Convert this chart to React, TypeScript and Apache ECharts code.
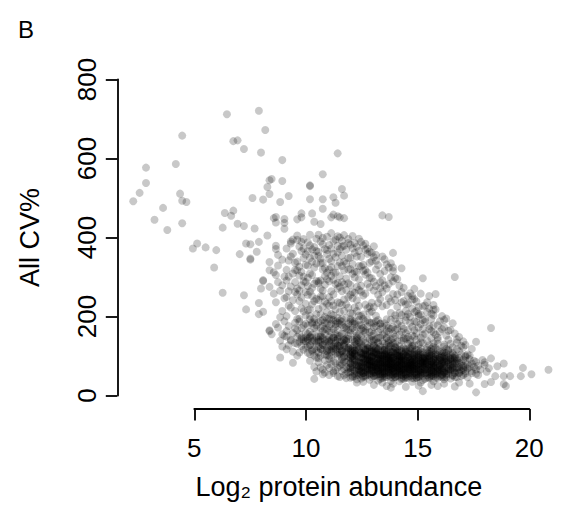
import React, { useEffect, useRef } from "react";
import * as echarts from "echarts";

const panelLabel = "B";
const xTitle = "Log₂ protein abundance";
const yTitle = "All CV%";
const xTickStep = 5;
const xTickRange = [5, 20];
const yTickStep = 200;
const yTickRange = [0, 800];

// low-abundance outliers
const sparseLeft: [number, number][] = [
  [2.3,492],[2.6,513],[2.9,538],[2.9,577],[3.3,445],[3.7,475],[3.9,419],[4.3,586],[4.6,658],[4.5,511],[4.6,493],[4.8,490],[4.6,436],
  [5.1,372],[5.3,385],[5.7,375],[6.2,368],[6.1,324],[6.5,260],[6.7,712],[7.0,644],[7.2,646],[7.5,624],[6.6,462],[7.0,468],[6.9,455],
  [7.2,435],[7.5,429],[6.5,425],[7.3,358],[7.6,385],[7.8,383],[7.5,254],[7.6,218]
];

// sparse points above the main cloud
const sparseUpper: [number, number][] = [
  [8.2,721],[8.5,672],[8.3,615],[7.9,500],[8.4,496],[8.6,528],[8.7,545],[8.7,510],[8.0,423],[8.1,364],[8.2,389],[7.8,344],[7.8,347],
  [8.2,234],[8.2,206],[8.4,212],[8.4,292],[8.4,290],[8.3,271],[8.7,165],[8.7,163],[8.7,338],[8.7,317],[8.7,275],[8.6,405],[9.0,379],
  [8.9,449],[9.0,438],[9.3,596],[9.3,543],[8.8,548],[9.6,505],[9.2,490],[9.4,447],[9.4,422],[9.7,390],[8.8,155],[9.3,155],[9.2,96],
  [9.8,83],[10.8,42],[10.2,461],[10.2,451],[10.6,530],[10.6,532],[10.6,497],[10.7,461],[10.8,440],[11.2,560],[11.2,497],[11.2,473],
  [11.1,434],[11.7,502],[11.8,488],[11.9,613],[12.1,523],[12.2,506],[12.0,451],[12.2,449],[11.6,451],[11.7,458],[11.9,454],[14.0,456],
  [14.3,452],[9.4,437],[9.0,452],[10.0,446]
];

// sparse points right of / below the main cloud
const sparseRight: [number, number][] = [
  [14.5,361],[14.5,324],[14.9,322],[15.9,297],[17.4,300],[15.5,270],[16.2,252],[16.5,257],[16.4,217],[16.9,191],[19.1,171],[18.4,136],
  [17.1,164],[17.5,142],[17.8,122],[21.8,65],[21.0,54],[20.6,70],[20.5,49],[20.0,49],[19.7,49],[19.3,49],[19.7,29],[19.7,81],[19.4,74],
  [19.1,94],[18.8,29],[18.4,8],[17.4,23],[19.1,34],[18.1,30],[15.9,11],[14.4,20],[19.8,24],
  [12.8,33],[13.6,27],[14.2,24],[15.1,22],[15.7,25],[16.3,27],[16.9,30],[17.6,33],[13.1,35],[16.6,24]
];

// upper "bubble" of high CV proteins
const bubblePoints: [number, number][] = [
  [8.9,312],[9.1,287],[9.3,344],[9.0,236],[9.2,265],[9.4,301],[8.9,258],[9.1,329],[9.3,214],[9.0,371],[9.2,198],[9.4,246],[9.1,356],[9.3,279],[9.0,305],
  [9.5,318],[9.7,352],[9.9,287],[9.6,264],[9.8,241],[9.5,372],[9.7,223],[9.9,336],[9.6,301],[9.8,395],[9.5,249],[9.7,276],[9.9,214],[9.6,342],[9.8,309],[9.5,201],[9.7,385],[9.9,262],[9.6,228],[9.8,359],[9.5,291],[9.9,318],
  [10.0,394],[10.2,366],[10.4,331],[10.1,304],[10.3,289],[10.0,256],[10.2,221],[10.4,203],[10.1,377],[10.3,348],[10.0,317],[10.2,279],[10.4,262],[10.1,239],[10.3,213],[10.0,405],[10.2,389],[10.4,357],[10.1,326],[10.3,301],[10.0,271],[10.2,248],[10.4,287],[10.1,194],[10.3,372],[10.0,339],[10.2,313],[10.4,232],[10.1,266],[10.3,396],
  [10.5,388],[10.7,370],[10.9,334],[10.6,309],[10.8,283],[10.5,255],[10.7,231],[10.9,206],[10.6,348],[10.8,324],[10.5,298],[10.7,272],[10.9,245],[10.6,218],[10.8,194],[10.5,365],[10.7,339],[10.9,397],[10.6,380],[10.8,354],[10.5,216],[10.7,185],[10.9,290],[10.6,263],[10.8,239],[10.5,329],[10.7,305],[10.9,366],[10.6,201],[10.8,376],[10.5,277],[10.7,252],[10.6,407],
  [11.0,407],[11.2,383],[11.4,358],[11.1,335],[11.3,302],[11.0,284],[11.2,251],[11.4,232],[11.1,206],[11.3,371],[11.0,353],[11.2,319],[11.4,294],[11.1,270],[11.3,238],[11.0,219],[11.2,399],[11.4,368],[11.1,347],[11.3,322],[11.0,289],[11.2,266],[11.4,211],[11.1,390],[11.3,281],[11.0,242],[11.2,336],[11.4,311],[11.1,251],[11.3,199],[11.0,364],[11.2,225],[11.4,402],[11.1,291],
  [11.5,381],[11.7,359],[11.9,328],[11.6,303],[11.8,282],[11.5,249],[11.7,228],[11.9,196],[11.6,372],[11.8,350],[11.5,319],[11.7,293],[11.9,271],[11.6,239],[11.8,218],[11.5,194],[11.7,391],[11.9,362],[11.6,340],[11.8,311],[11.5,289],[11.7,256],[11.9,236],[11.6,206],[11.8,395],[11.5,346],[11.7,312],[11.9,285],[11.6,264],[11.8,181],[11.5,228],[11.7,203],[11.9,379],[11.6,325],[11.6,411],[11.9,403],
  [12.0,400],[12.2,379],[12.4,348],[12.1,328],[12.3,296],[12.0,275],[12.2,243],[12.4,222],[12.1,392],[12.3,369],[12.0,337],[12.2,317],[12.4,284],[12.1,264],[12.3,231],[12.0,211],[12.2,406],[12.4,386],[12.1,354],[12.3,334],[12.0,302],[12.2,281],[12.4,249],[12.1,229],[12.3,196],[12.0,371],[12.2,339],[12.4,319],[12.1,287],[12.3,267],[12.0,234],[12.2,214],[12.4,396],[12.1,377],
  [12.5,382],[12.7,361],[12.9,328],[12.6,308],[12.8,275],[12.5,255],[12.7,223],[12.9,202],[12.6,373],[12.8,352],[12.5,320],[12.7,299],[12.9,267],[12.6,246],[12.8,214],[12.5,193],[12.7,386],[12.9,366],[12.6,333],[12.8,313],[12.5,280],[12.7,260],[12.9,227],[12.6,207],[12.8,377],[12.5,349],[12.7,314],[12.9,294],[12.6,262],[12.8,241],[12.5,209],[12.7,188],[12.6,404],[12.9,397],
  [13.0,389],[13.2,369],[13.4,336],[13.1,316],[13.3,283],[13.0,263],[13.2,230],[13.4,210],[13.1,380],[13.3,359],[13.0,327],[13.2,306],[13.4,274],[13.1,253],[13.3,221],[13.0,201],[13.2,384],[13.4,364],[13.1,331],[13.3,311],[13.0,278],[13.2,258],[13.4,225],[13.1,205],[13.3,372],[13.0,351],[13.2,318],[13.4,298],
  [13.5,361],[13.7,341],[13.9,308],[13.6,288],[13.8,255],[13.5,235],[13.7,202],[13.9,182],[13.6,350],[13.8,330],[13.5,297],[13.7,277],[13.9,244],[13.6,224],[13.8,191],[13.5,340],[13.7,319],[13.9,287],[13.6,266],[13.8,234],[13.5,213],[13.7,356],[13.9,272],[13.6,183],[13.6,378],
  [14.0,352],[14.2,332],[14.4,299],[14.1,279],[14.3,246],[14.0,226],[14.2,193],[14.4,335],[14.1,315],[14.3,282],[14.0,262],[14.2,229],[14.4,209],[14.1,345],[14.3,324],[14.0,291],[14.2,271],[14.4,238],
  [14.5,315],[14.7,295],[14.9,262],[14.6,242],[14.8,209],[14.5,289],[14.7,256],[14.9,236],[14.6,203],[14.8,278],[14.5,257],[14.7,225],[14.9,204],[14.6,298],
  [15.0,273],[15.2,252],[15.4,220],[15.1,199],[15.3,259],[15.0,239],[15.2,206],[15.4,252],[15.1,231],[15.3,199],
  [15.5,244],[15.7,224],[15.9,191],[15.6,238],[15.8,205],[15.5,211],[15.7,202],
  [16.1,211],[16.3,194],[16.0,228],[16.4,203],[16.2,220]
];

// middle band, CV roughly 95-195 %
const midPoints: [number, number][] = [
  [9.1,172],[9.4,188],[9.2,139],[9.3,124],[9.0,181],[9.4,151],
  [9.6,176],[9.5,149],[9.9,133],[9.7,139],[9.8,111],[9.5,163],[9.9,184],[9.6,127],[9.8,158],[9.7,141],[9.5,117],[9.9,170],
  [10.1,187],[10.3,142],[10.0,166],[10.4,121],[10.2,143],[10.0,131],[10.3,178],[10.1,109],[10.4,159],[10.2,147],[10.0,194],[10.3,116],[10.1,155],[10.4,182],[10.2,126],[10.0,101],[10.3,138],[10.1,136],[10.4,147],[10.2,171],[10.0,149],[10.4,138],
  [10.6,193],[10.9,168],[10.5,143],[10.8,118],[10.7,146],[10.5,177],[10.9,132],[10.6,105],[10.8,186],[10.7,154],[10.5,124],[10.9,137],[10.6,161],[10.8,139],[10.7,112],[10.5,139],[10.9,149],[10.6,128],[10.8,171],[10.7,182],[10.5,156],[10.9,114],[10.6,149],[10.8,101],[10.7,137],[10.5,108],[10.9,178],[10.6,147],
  [11.3,138],[11.2,163],[11.1,137],[11.4,112],[11.0,186],[11.1,171],[11.2,128],[11.3,104],[11.4,194],[11.0,149],[11.1,118],[11.2,147],[11.3,157],[11.4,141],[11.0,124],[11.1,189],[11.2,176],[11.3,131],[11.4,167],[11.0,109],[11.1,152],[11.2,143],[11.3,184],[11.4,121],[11.0,141],[11.1,101],[11.2,116],[11.3,168],[11.4,182],[11.0,136],[11.1,149],[11.2,191],
  [11.6,142],[11.8,174],[11.5,148],[11.9,127],[11.7,191],[11.5,163],[11.8,106],[11.6,138],[11.9,184],[11.7,119],[11.5,136],[11.8,155],[11.6,111],[11.9,143],[11.7,168],[11.5,129],[11.8,139],[11.6,181],[11.9,102],[11.7,147],[11.5,115],[11.8,133],[11.6,159],[11.9,147],[11.7,125],[11.5,176],[11.8,188],[11.6,124],[11.9,166],[11.7,146],[11.5,139],[11.8,118],[11.6,193],[11.9,152],
  [12.0,190],[12.1,179],[12.3,139],[12.2,128],[12.4,182],[12.3,170],[12.1,113],[12.0,126],[12.2,172],[12.4,121],[12.3,138],[12.1,157],[12.0,109],[12.2,132],[12.4,167],[12.3,119],[12.1,187],[12.0,182],[12.2,99],[12.4,151],[12.3,107],[12.1,137],[12.0,150],[12.2,140],[12.4,116],[12.3,175],[12.1,194],[12.0,125],[12.2,156],[12.4,143],[12.3,144],[12.1,110],[12.0,136],[12.2,142],
  [12.5,188],[12.6,171],[12.8,147],[12.7,113],[12.9,178],[12.8,152],[12.6,109],[12.5,126],[12.7,181],[12.9,118],[12.8,144],[12.6,141],[12.5,103],[12.7,142],[12.9,155],[12.8,130],[12.6,183],[12.5,165],[12.7,106],[12.9,135],[12.8,116],[12.6,121],[12.5,158],[12.7,136],[12.9,124],[12.8,173],[12.6,189],[12.5,112],[12.7,163],[12.9,191],[12.8,139],[12.6,100],
  [13.4,184],[13.0,168],[13.2,133],[13.3,121],[13.1,171],[13.2,160],[13.0,108],[13.4,123],[13.3,175],[13.1,105],[13.2,187],[13.0,150],[13.4,111],[13.3,127],[13.1,163],[13.2,115],[13.0,178],[13.4,160],[13.3,104],[13.1,142],[13.2,101],[13.0,130],[13.4,143],[13.3,191],[13.1,120],[13.2,166],[13.0,137],[13.4,117],[13.3,146],[13.1,194],
  [13.6,173],[13.8,135],[13.5,121],[13.9,147],[13.7,109],[13.5,184],[13.8,132],[13.6,156],[13.9,104],[13.7,188],[13.5,139],[13.8,115],[13.6,141],[13.9,168],[13.7,143],[13.5,98],[13.8,161],[13.6,127],[13.9,182],[13.7,118],[13.5,163],[13.8,104],[13.6,137],[13.9,124],[13.7,176],[13.5,151],[13.8,146],[13.6,107],
  [14.2,177],[14.3,161],[14.4,126],[14.1,116],[14.0,174],[14.4,142],[14.3,106],[14.2,128],[14.1,156],[14.0,101],[14.4,192],[14.3,133],[14.2,98],[14.1,131],[14.0,154],[14.4,111],[14.3,171],[14.2,164],[14.1,102],[14.0,137],[14.4,100],[14.3,124],[14.2,147],[14.1,183],[14.0,115],[14.4,169],[14.3,139],[14.2,145],
  [14.6,166],[14.8,188],[14.5,117],[14.9,139],[14.7,101],[14.5,174],[14.8,125],[14.6,149],[14.9,99],[14.7,181],[14.5,133],[14.8,108],[14.6,194],[14.9,161],[14.7,137],[14.5,96],[14.8,154],[14.6,121],[14.9,176],[14.7,112],[14.5,157],[14.8,99],[14.6,131],[14.9,118],[14.7,169],[14.5,145],
  [15.0,169],[15.4,152],[15.3,120],[15.1,112],[15.2,166],[15.3,135],[15.4,103],[15.0,121],[15.1,158],[15.2,97],[15.3,184],[15.4,126],[15.0,104],[15.1,115],[15.2,148],[15.3,106],[15.4,174],[15.0,145],[15.1,190],[15.2,131],[15.3,141],[15.4,118],[15.0,140],[15.1,144],
  [15.6,158],[15.8,181],[15.5,111],[15.9,133],[15.7,97],[15.5,166],[15.8,119],[15.6,141],[15.9,95],[15.7,172],[15.5,127],[15.8,104],[15.6,186],[15.9,154],[15.7,129],[15.5,99],[15.8,146],[15.6,116],[15.9,168],[15.7,108],[15.5,149],[15.8,135],
  [16.4,160],[16.3,145],[16.2,113],[16.1,108],[16.0,157],[16.2,127],[16.3,101],[16.4,115],[16.1,139],[16.0,94],[16.2,176],[16.3,118],[16.4,132],[16.1,121],[16.0,186],[16.2,100],[16.3,163],[16.4,124],
  [16.6,147],[16.8,168],[16.5,104],[16.9,124],[16.7,96],[16.5,154],[16.8,112],[16.6,131],[16.9,99],[16.7,161],[16.5,121],[16.8,101],[16.6,178],
  [17.1,141],[17.3,122],[17.0,108],[17.4,97],[17.2,131],[17.0,152],[17.3,104],[17.1,116],
  [17.6,112],[17.9,101],[17.7,126],[17.5,134]
];

// right shoulder of the cloud (abundance 15-18, CV 100-260 %)
const rightShoulder: [number, number][] = [
  [15.2,232],[15.6,214],[15.9,226],[16.3,207],[16.7,188],[16.1,236],[15.4,243],[16.5,218],[16.9,172],[17.2,166],[17.6,148],[17.9,128],
  [17.3,183],[16.8,201],[15.8,258],[16.0,193],[16.4,178],[17.0,195],[15.5,188],[16.2,168],[16.6,141],[17.4,157],[17.8,137],[18.2,118],
  [18.0,104],[17.5,117],[16.9,129],[15.7,206],[15.1,214],[16.4,229]
];

// dense core, CV below ~130 %
const corePoints: [number, number][] = [
  [10.6,88],[10.8,72],[10.9,96],[10.7,115],[10.9,61],[10.6,127],
  [11.0,84],[11.2,66],[11.4,102],[11.1,119],[11.3,58],[11.0,95],[11.4,77],[11.2,128],[11.3,89],[11.1,71],[11.4,112],[11.2,54],
  [11.5,93],[11.7,61],[11.9,108],[11.6,79],[11.8,124],[11.5,52],[11.7,87],[11.9,71],[11.6,117],[11.8,64],[11.5,101],[11.9,49],[11.7,113],[11.6,96],[11.8,82],[11.5,70],[11.9,126],[11.7,57],
  [12.0,76],[12.2,98],[12.4,59],[12.1,113],[12.3,84],[12.0,47],[12.4,121],[12.2,67],[12.1,91],[12.3,55],[12.4,88],[12.0,104],[12.2,125],[12.3,72],[12.1,62],[12.4,99],[12.0,83],[12.2,51],[12.3,110],[12.1,79],[12.4,68],[12.0,118],[12.2,86],[12.3,44],[12.1,96],
  [12.5,81],[12.7,63],[12.9,97],[12.6,114],[12.8,52],[12.5,70],[12.7,106],[12.9,75],[12.6,88],[12.8,123],[12.5,45],[12.7,92],[12.9,58],[12.6,67],[12.8,101],[12.5,117],[12.7,78],[12.9,84],[12.6,49],[12.8,73],[12.5,94],[12.7,55],[12.9,111],[12.6,99],[12.8,86],[12.5,61],[12.7,127],[12.9,66],[12.6,78],[12.8,41],[12.5,104],[12.7,89],
  [13.0,74],[13.2,91],[13.4,56],[13.1,108],[13.3,81],[13.0,43],[13.4,97],[13.2,66],[13.1,85],[13.3,119],[13.0,62],[13.4,76],[13.2,103],[13.3,52],[13.1,71],[13.4,88],[13.0,95],[13.2,48],[13.3,68],[13.1,124],[13.4,64],[13.0,82],[13.2,78],[13.3,93],[13.1,57],[13.4,112],[13.0,105],[13.2,59],[13.3,74],[13.1,92],[13.4,40],[13.0,69],[13.2,116],[13.3,86],[13.1,63],[13.4,80],[13.0,54],[13.2,84],[13.3,101],[13.1,47],
  [13.5,77],[13.7,94],[13.9,61],[13.6,109],[13.8,83],[13.5,46],[13.7,68],[13.9,99],[13.6,72],[13.8,55],[13.5,88],[13.7,121],[13.9,79],[13.6,58],[13.8,104],[13.5,65],[13.7,50],[13.9,86],[13.6,93],[13.8,70],[13.5,112],[13.7,82],[13.9,42],[13.6,64],[13.8,91],[13.5,56],[13.7,75],[13.9,115],[13.6,85],[13.8,62],[13.5,97],[13.7,58],[13.9,72],[13.6,49],[13.8,118],[13.5,71],[13.7,103],[13.9,91],[13.6,78],[13.8,38],[13.5,84],[13.7,66],[13.9,54],[13.6,126],[13.8,76],
  [14.0,72],[14.2,89],[14.4,57],[14.1,104],[14.3,80],[14.0,44],[14.4,95],[14.2,65],[14.1,83],[14.3,117],[14.0,60],[14.4,74],[14.2,100],[14.3,51],[14.1,69],[14.4,87],[14.0,93],[14.2,47],[14.3,67],[14.1,121],[14.4,63],[14.0,81],[14.2,77],[14.3,92],[14.1,55],[14.4,109],[14.0,102],[14.2,58],[14.3,73],[14.1,90],[14.4,37],[14.0,68],[14.2,113],[14.3,84],[14.1,61],[14.4,79],[14.0,52],[14.2,82],[14.3,98],[14.1,46],[14.4,70],[14.0,86],[14.2,71],[14.3,59],[14.1,76],[14.4,127],[14.0,33],[14.2,96],
  [14.5,75],[14.7,92],[14.9,59],[14.6,107],[14.8,82],[14.5,45],[14.7,67],[14.9,97],[14.6,71],[14.8,53],[14.5,87],[14.7,118],[14.9,78],[14.6,56],[14.8,102],[14.5,63],[14.7,48],[14.9,84],[14.6,90],[14.8,68],[14.5,110],[14.7,80],[14.9,41],[14.6,62],[14.8,89],[14.5,54],[14.7,73],[14.9,112],[14.6,83],[14.8,60],[14.5,95],[14.7,57],[14.9,70],[14.6,47],[14.8,115],[14.5,69],[14.7,100],[14.9,88],[14.6,76],[14.8,36],[14.5,81],[14.7,64],[14.9,52],[14.6,123],[14.8,74],[14.5,30],[14.7,86],[14.9,66],
  [15.0,70],[15.2,87],[15.4,55],[15.1,101],[15.3,78],[15.0,42],[15.4,92],[15.2,63],[15.1,81],[15.3,114],[15.0,58],[15.4,72],[15.2,97],[15.3,49],[15.1,67],[15.4,85],[15.0,90],[15.2,45],[15.3,65],[15.1,118],[15.4,61],[15.0,79],[15.2,75],[15.3,89],[15.1,53],[15.4,106],[15.0,99],[15.2,56],[15.3,71],[15.1,88],[15.4,35],[15.0,66],[15.2,110],[15.3,82],[15.1,59],[15.4,77],[15.0,50],[15.2,80],[15.3,95],[15.1,44],[15.4,68],[15.0,84],[15.2,69],[15.3,57],[15.1,74],[15.4,124],
  [15.5,73],[15.7,90],[15.9,57],[15.6,104],[15.8,80],[15.5,43],[15.7,65],[15.9,94],[15.6,69],[15.8,51],[15.5,85],[15.7,115],[15.9,76],[15.6,54],[15.8,99],[15.5,61],[15.7,46],[15.9,82],[15.6,88],[15.8,66],[15.5,107],[15.7,78],[15.9,39],[15.6,60],[15.8,86],[15.5,52],[15.7,71],[15.9,109],[15.6,81],[15.8,58],[15.5,92],[15.7,55],[15.9,68],[15.6,45],[15.8,112],[15.5,67],[15.7,97],[15.9,85],[15.6,74],[15.8,33],[15.5,79],[15.7,62],
  [16.0,71],[16.2,88],[16.4,56],[16.1,101],[16.3,78],[16.0,42],[16.4,90],[16.2,63],[16.1,80],[16.3,111],[16.0,57],[16.4,70],[16.2,95],[16.3,48],[16.1,66],[16.4,83],[16.0,87],[16.2,44],[16.3,64],[16.1,116],[16.4,60],[16.0,77],[16.2,74],[16.3,86],[16.1,52],[16.4,103],[16.0,96],[16.2,55],[16.3,69],[16.1,85],[16.4,36],[16.0,65],[16.2,107],[16.3,80],[16.1,58],[16.4,75],
  [16.5,74],[16.7,89],[16.9,58],[16.6,102],[16.8,79],[16.5,45],[16.7,66],[16.9,93],[16.6,69],[16.8,53],[16.5,84],[16.7,112],[16.9,75],[16.6,56],[16.8,97],[16.5,62],[16.7,48],[16.9,81],[16.6,86],[16.8,67],[16.5,105],[16.7,77],[16.9,41],[16.6,60],[16.8,88],[16.5,54],[16.7,72],[16.9,100],
  [17.0,72],[17.2,86],[17.4,58],[17.1,97],[17.3,77],[17.0,46],[17.4,89],[17.2,63],[17.1,80],[17.3,108],[17.0,56],[17.4,70],[17.2,92],[17.3,50],[17.1,66],[17.4,82],[17.0,88],[17.2,43],[17.3,64],[17.1,113],
  [17.5,70],[17.7,84],[17.9,56],[17.6,95],[17.8,75],[17.5,47],[17.7,63],[17.9,88],[17.6,66],[17.8,52],[17.5,81],[17.7,104],[17.9,72],[17.6,58],
  [18.0,68],[18.2,81],[18.4,55],[18.1,92],[18.3,72],[18.0,46],[18.2,62],[18.4,85],[18.1,101],
  [18.6,66],[18.8,78],[18.5,52],[18.7,90],[18.9,60]
];

// darkest part of the core (abundance 12.5-17.5, CV 45-115 %)
const coreDensest: [number, number][] = [
  [12.8,77],[12.5,96],[12.9,64],[12.6,108],[12.7,85],[12.9,52],[12.6,73],[12.8,99],[12.5,59],[12.7,114],[12.9,89],[12.6,47],[12.8,68],[12.5,82],[12.7,104],[12.9,76],[12.6,93],[12.8,58],[12.5,71],[12.7,49],
  [13.3,79],[13.0,97],[13.4,66],[13.1,104],[13.2,87],[13.4,53],[13.1,74],[13.3,98],[13.0,61],[13.2,113],[13.4,90],[13.1,49],[13.3,69],[13.0,84],[13.2,105],[13.4,78],[13.1,94],[13.3,59],[13.0,72],[13.2,51],[13.4,101],[13.1,83],[13.3,63],[13.0,109],[13.2,70],[13.4,86],[13.1,57],[13.3,91],
  [13.8,81],[13.5,99],[13.9,67],[13.6,103],[13.7,88],[13.9,55],[13.6,75],[13.8,96],[13.5,62],[13.7,111],[13.9,92],[13.6,50],[13.8,71],[13.5,86],[13.7,107],[13.9,80],[13.6,95],[13.8,60],[13.5,74],[13.7,53],[13.9,102],[13.6,84],[13.8,64],[13.5,110],[13.7,72],[13.9,87],[13.6,58],[13.8,93],[13.5,69],[13.7,78],[13.9,48],[13.6,114],
  [14.3,80],[14.0,98],[14.4,66],[14.1,106],[14.2,86],[14.4,54],[14.1,73],[14.3,95],[14.0,61],[14.2,110],[14.4,91],[14.1,49],[14.3,70],[14.0,85],[14.2,104],[14.4,79],[14.1,93],[14.3,58],[14.0,73],[14.2,52],[14.4,100],[14.1,82],[14.3,63],[14.0,111],[14.2,71],[14.4,88],[14.1,57],[14.3,89],[14.0,67],[14.2,77],[14.4,47],[14.1,115],[14.3,101],[14.0,55],
  [14.8,78],[14.5,96],[14.9,64],[14.6,103],[14.7,84],[14.9,53],[14.6,72],[14.8,94],[14.5,60],[14.7,108],[14.9,89],[14.6,47],[14.8,69],[14.5,83],[14.7,102],[14.9,77],[14.6,91],[14.8,57],[14.5,71],[14.7,51],[14.9,98],[14.6,80],[14.8,62],[14.5,109],[14.7,70],[14.9,86],[14.6,55],[14.8,88],[14.5,66],[14.7,75],[14.9,45],[14.6,113],[14.8,99],[14.5,52],
  [15.3,76],[15.0,94],[15.4,63],[15.1,100],[15.2,82],[15.4,51],[15.1,70],[15.3,91],[15.0,58],[15.2,105],[15.4,87],[15.1,46],[15.3,67],[15.0,81],[15.2,99],[15.4,75],[15.1,89],[15.3,55],[15.0,69],[15.2,50],[15.4,96],[15.1,78],[15.3,60],[15.0,106],[15.2,68],[15.4,84],[15.1,53],[15.3,86],[15.0,64],[15.2,73],[15.4,44],[15.1,110],
  [15.8,74],[15.5,91],[15.9,61],[15.6,97],[15.7,80],[15.9,50],[15.6,68],[15.8,88],[15.5,57],[15.7,102],[15.9,84],[15.6,45],[15.8,65],[15.5,79],[15.7,95],[15.9,73],[15.6,86],[15.8,54],[15.5,67],[15.7,48],[15.9,93],[15.6,76],[15.8,59],[15.5,103],[15.7,66],[15.9,81],[15.6,52],[15.8,83],
  [16.3,72],[16.0,89],[16.4,60],[16.1,95],[16.2,78],[16.4,49],[16.1,66],[16.3,86],[16.0,56],[16.2,99],[16.4,82],[16.1,45],[16.3,64],[16.0,77],[16.2,93],[16.4,71],[16.1,84],[16.3,53],[16.0,66],[16.2,47],[16.4,91],[16.1,74],[16.3,58],[16.0,100],
  [16.8,70],[16.5,87],[16.9,59],[16.6,92],[16.7,76],[16.9,48],[16.6,64],[16.8,84],[16.5,55],[16.7,96],[16.9,80],[16.6,44],[16.8,62],[16.5,75],[16.7,90],[16.9,69],[16.6,81],[16.8,52],
  [17.3,69],[17.0,84],[17.4,57],[17.1,90],[17.2,74],[17.4,47],[17.1,62],[17.3,81],[17.0,53],[17.2,94]
];

// core extension towards high abundance (16-19)
const coreRight: [number, number][] = [
  [16.6,71],[16.9,86],[17.2,78],[17.5,64],[17.8,91],[18.1,73],[16.7,58],[17.0,99],[17.3,52],[17.6,83],[17.9,61],[18.3,88],
  [16.8,106],[17.1,68],[17.4,94],[17.7,49],[18.0,79],[18.4,66],[16.5,93],[17.2,104],[17.5,88],[17.8,70],[18.2,57],[17.0,62],
  [16.6,51],[17.3,86],[17.9,98],[18.5,75],[18.8,84],[19.0,69],
  [16.1,92],[16.4,78],[16.7,63],[17.0,94],[17.3,71],[17.6,57],[16.2,59],[16.5,99],[16.8,82],[17.1,55],[17.4,101],[17.7,76],
  [16.3,105],[16.6,66],[16.9,109],[17.2,67],[17.5,92],[16.0,82],[16.4,96],[16.8,47],[17.1,84],[17.6,72],[16.2,70],[16.9,63],
  [17.3,96],[15.9,104],[16.6,115],[17.0,118],[16.3,51],[17.8,65]
];

const FONT = '"Liberation Sans", Arial, Helvetica, sans-serif';
const AXIS_COLOR = "#000";

export default function App() {
  const ref = useRef<HTMLDivElement>(null);

  useEffect(() => {
    document.body.style.margin = "0";
    const chart = echarts.init(ref.current as HTMLDivElement, null, { renderer: "svg" });
    const allPoints = [
      ...sparseLeft,
      ...sparseUpper,
      ...sparseRight,
      ...bubblePoints,
      ...midPoints,
      ...rightShoulder,
      ...corePoints,
      ...coreDensest,
      ...coreRight,
    ];
    const axisLine = { show: true, onZero: false, lineStyle: { color: AXIS_COLOR, width: 1.8 } };
    const axisTick = { show: true, length: 11.5, lineStyle: { color: AXIS_COLOR, width: 1.8 } };

    chart.setOption({
      animation: false,
      backgroundColor: "#fff",
      title: {
        text: panelLabel,
        left: 18,
        top: 17,
        padding: 0,
        textStyle: { color: "#000", fontSize: 24, fontWeight: "normal", fontFamily: FONT },
      },
      grid: [
        { left: 117.3, top: 60, width: 480, height: 349 },
        { left: 194.3, top: 60, width: 335, height: 349 },
        { left: 117.3, top: 79.5, width: 300, height: 316 },
      ],
      xAxis: [
        { gridIndex: 0, type: "value", min: 1.5522, max: 23.045, show: false },
        {
          gridIndex: 1,
          type: "value",
          min: xTickRange[0],
          max: xTickRange[1],
          interval: xTickStep,
          position: "bottom",
          axisLine,
          axisTick,
          splitLine: { show: false },
          axisLabel: { color: "#000", fontSize: 26, fontFamily: FONT, margin: 25.5 },
          name: xTitle,
          nameLocation: "middle",
          nameGap: 64,
          nameTextStyle: { color: "#000", fontSize: 27, fontFamily: FONT, padding: [0, 46, 0, 0] },
        },
        { gridIndex: 2, type: "value", show: false },
      ],
      yAxis: [
        { gridIndex: 0, type: "value", min: -34.18, max: 849.4, show: false },
        { gridIndex: 1, type: "value", show: false },
        {
          gridIndex: 2,
          type: "value",
          min: yTickRange[0],
          max: yTickRange[1],
          interval: yTickStep,
          position: "left",
          axisLine,
          axisTick,
          splitLine: { show: false },
          axisLabel: { color: "#000", fontSize: 26, fontFamily: FONT, margin: 17, rotate: 90 },
          name: yTitle,
          nameLocation: "middle",
          nameRotate: 90,
          nameGap: 74,
          nameTextStyle: { color: "#000", fontSize: 27, fontFamily: FONT },
        },
      ],
      series: [
        {
          type: "scatter",
          xAxisIndex: 0,
          yAxisIndex: 0,
          data: allPoints,
          symbol: "circle",
          symbolSize: 8,
          silent: true,
          itemStyle: { color: "rgba(0,0,0,0.27)" },
        },
      ],
    });
    return () => chart.dispose();
  }, []);

  return <div ref={ref} style={{ width: 575, height: 506 }} />;
}
